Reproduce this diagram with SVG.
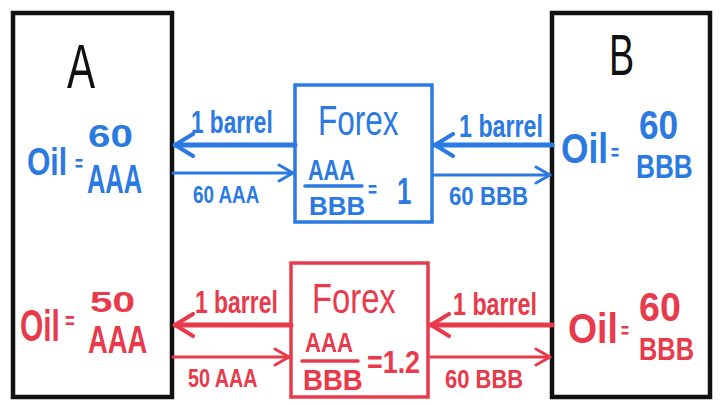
<svg xmlns="http://www.w3.org/2000/svg" width="722" height="405" viewBox="0 0 722 405">
<style>
text{font-family:"Liberation Sans","Noto Sans",sans-serif;font-weight:bold;}
.k{fill:#111;font-weight:normal;}
.n{font-weight:normal;}
.b{fill:#2a7ae2;}
.r{fill:#e83a4a;}
.box{fill:none;stroke:#111;stroke-width:4.5;}
.bbox{fill:none;stroke:#2a7ae2;stroke-width:3.5;}
.rbox{fill:none;stroke:#e83a4a;stroke-width:3.5;}
.bl{stroke:#2a7ae2;fill:none;stroke-linecap:round;}
.rl{stroke:#e83a4a;fill:none;stroke-linecap:round;}
.thick{stroke-width:5;}
.thin{stroke-width:3;}
</style>
<defs>
<marker id="hb" markerUnits="userSpaceOnUse" viewBox="0 0 22 26" markerWidth="22" markerHeight="26" refX="20" refY="13" orient="auto"><path d="M2,2 L20,13 L2,24" fill="none" stroke="#2a7ae2" stroke-width="4" stroke-linecap="round" stroke-linejoin="round"/></marker>
<marker id="hbt" markerUnits="userSpaceOnUse" viewBox="0 0 18 20" markerWidth="18" markerHeight="20" refX="16" refY="10" orient="auto"><path d="M2,2 L16,10 L2,18" fill="none" stroke="#2a7ae2" stroke-width="3" stroke-linecap="round" stroke-linejoin="round"/></marker>
<marker id="hr" markerUnits="userSpaceOnUse" viewBox="0 0 22 26" markerWidth="22" markerHeight="26" refX="20" refY="13" orient="auto"><path d="M2,2 L20,13 L2,24" fill="none" stroke="#e83a4a" stroke-width="4" stroke-linecap="round" stroke-linejoin="round"/></marker>
<marker id="hrt" markerUnits="userSpaceOnUse" viewBox="0 0 18 20" markerWidth="18" markerHeight="20" refX="16" refY="10" orient="auto"><path d="M2,2 L16,10 L2,18" fill="none" stroke="#e83a4a" stroke-width="3" stroke-linecap="round" stroke-linejoin="round"/></marker>
</defs>
<rect width="722" height="405" fill="#fff"/>

<g id="nodeA">
<rect class="box" x="13" y="13" width="159" height="384"/>
<text class="k" font-size="62" transform="translate(67,88) scale(0.68,1)">A</text>
<text class="b" font-size="39" transform="translate(27,175) scale(0.77,1)">Oil</text>
<text class="b" font-size="22" transform="translate(75,171) scale(0.62,1)">=</text>
<text class="b" font-size="31" transform="translate(88,147) scale(1.3,1)">60</text>
<text class="b" font-size="41" transform="translate(87,193) scale(0.62,1)">AAA</text>
<text class="r" font-size="44" transform="translate(20,341) scale(0.68,1)">Oil</text>
<text class="r" font-size="24" transform="translate(65,329) scale(0.7,1)">=</text>
<text class="r" font-size="30" transform="translate(90,312) scale(1.35,1)">50</text>
<text class="r" font-size="38" transform="translate(88,353) scale(0.72,1)">AAA</text>
</g>

<g id="nodeB">
<rect class="box" x="552" y="13" width="158" height="384"/>
<text class="k" font-size="58" transform="translate(609,75) scale(0.65,1)">B</text>
<text class="b" font-size="42" transform="translate(561,163) scale(0.84,1)">Oil</text>
<text class="b" font-size="22" transform="translate(611,160) scale(0.62,1)">=</text>
<text class="b" font-size="40" transform="translate(639,138.5) scale(0.88,1)">60</text>
<text class="b" font-size="34" transform="translate(636,178) scale(0.77,1)">BBB</text>
<text class="r" font-size="42" transform="translate(568,343) scale(0.89,1)">Oil</text>
<text class="r" font-size="22" transform="translate(621,338) scale(0.62,1)">=</text>
<text class="r" font-size="40" transform="translate(639,321) scale(0.94,1)">60</text>
<text class="r" font-size="31" transform="translate(639,360) scale(0.82,1)">BBB</text>
</g>

<g id="forexBlue">
<rect class="bbox" x="295" y="85" width="137" height="137"/>
<text class="b n" font-size="42" transform="translate(318,135) scale(0.75,1)">Forex</text>
<line x1="305" y1="186" x2="362" y2="186" stroke="#2a7ae2" stroke-width="3.5" stroke-linecap="round"/>
<text class="b" font-size="30" transform="translate(308,180) scale(0.72,1)">AAA</text>
<text class="b" font-size="26" transform="translate(309,215) scale(1,1)">BBB</text>
<text class="b" font-size="22" transform="translate(368,197) scale(0.7,1)">=</text>
<text class="b" font-size="37" transform="translate(397,204) scale(0.7,1)">1</text>
</g>

<g id="forexRed">
<rect class="rbox" x="291" y="263" width="137" height="134"/>
<text class="r n" font-size="42" transform="translate(312,313) scale(0.78,1)">Forex</text>
<line x1="302" y1="361" x2="358" y2="361" stroke="#e83a4a" stroke-width="3.5" stroke-linecap="round"/>
<text class="r" font-size="28" transform="translate(305,352) scale(0.79,1)">AAA</text>
<text class="r" font-size="30" transform="translate(303,390) scale(0.92,1)">BBB</text>
<text class="r" font-size="32" transform="translate(367,373) scale(0.84,1)">=1.2</text>
</g>

<g id="connectors">
<line class="bl thick" x1="295" y1="145" x2="175" y2="145" marker-end="url(#hb)"/>
<line class="bl thick" x1="552" y1="145" x2="435" y2="145" marker-end="url(#hb)"/>
<line class="bl thin" x1="173" y1="173" x2="293" y2="173" marker-end="url(#hbt)"/>
<line class="bl thin" x1="433" y1="175" x2="550" y2="175" marker-end="url(#hbt)"/>
<line class="rl thick" x1="291" y1="325" x2="175" y2="325" marker-end="url(#hr)"/>
<line class="rl thick" x1="552" y1="325" x2="431" y2="325" marker-end="url(#hr)"/>
<line class="rl thin" x1="173" y1="357" x2="289" y2="357" marker-end="url(#hrt)"/>
<line class="rl thin" x1="429" y1="357" x2="550" y2="357" marker-end="url(#hrt)"/>
<text class="b" font-size="31" transform="translate(191,133) scale(0.73,1)">1 barrel</text>
<text class="b" font-size="24" transform="translate(193,203) scale(0.785,1)">60 AAA</text>
<text class="b" font-size="31" transform="translate(459,137) scale(0.75,1)">1 barrel</text>
<text class="b" font-size="25" transform="translate(449,205) scale(0.89,1)">60 BBB</text>
<text class="r" font-size="31" transform="translate(195,313) scale(0.74,1)">1 barrel</text>
<text class="r" font-size="25" transform="translate(188,387) scale(0.79,1)">50 AAA</text>
<text class="r" font-size="31" transform="translate(453,315) scale(0.75,1)">1 barrel</text>
<text class="r" font-size="25" transform="translate(445,388) scale(0.88,1)">60 BBB</text>
</g>
</svg>
